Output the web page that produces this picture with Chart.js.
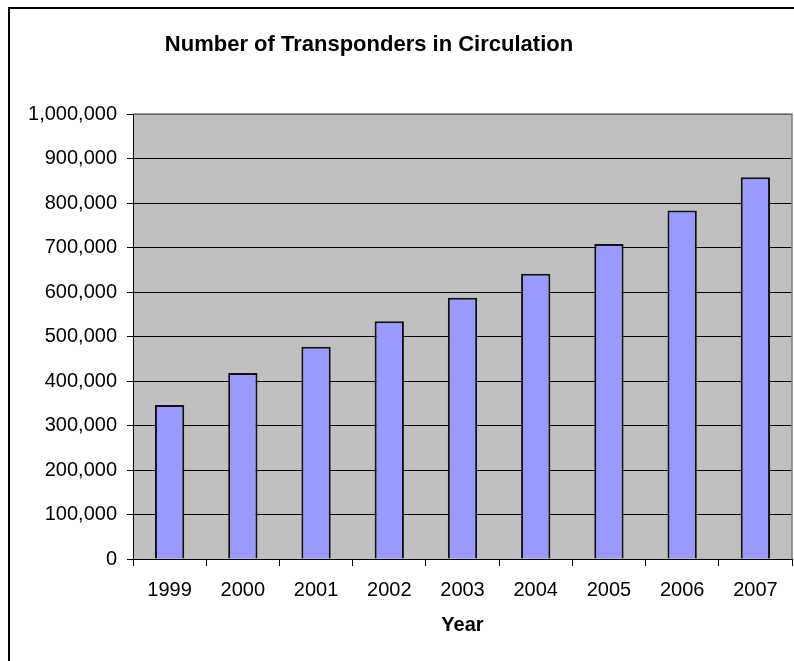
<!DOCTYPE html>
<html>
<head>
<meta charset="utf-8">
<script src="https://cdn.jsdelivr.net/npm/chart.js@4"></script>
<style>
  html, body { margin: 0; padding: 0; background: #ffffff; }
  #wrap { width: 794px; height: 661px; }
</style>
</head>
<body>
<div id="wrap"><canvas id="c" width="794" height="661"></canvas></div>
<script>
// Transponders in circulation by year
const years = ['1999', '2000', '2001', '2002', '2003', '2004', '2005', '2006', '2007'];
const transponders = [346000, 418000, 477000, 534000, 587000, 641000, 708000, 783000, 858000];
const chartTitle = 'Number of Transponders in Circulation';
const xAxisTitle = 'Year';

const FONT = '"Liberation Sans", Arial, sans-serif';

// Frame, grey plot background and the chart heading
const decor = {
  id: 'decor',
  beforeDraw(chart) {
    const { ctx, chartArea: a, width, height } = chart;
    ctx.save();
    ctx.fillStyle = '#ffffff';
    ctx.fillRect(0, 0, width, height);
    ctx.fillStyle = '#c0c0c0';
    ctx.fillRect(a.left, a.top, a.right - a.left, a.bottom - a.top);
    ctx.strokeStyle = '#000000';
    ctx.lineWidth = 2;
    ctx.beginPath();
    ctx.moveTo(9, height);
    ctx.lineTo(9, 8);
    ctx.lineTo(width, 8);
    ctx.stroke();
    ctx.restore();
  },
  beforeDatasetsDraw(chart) {
    const { ctx, chartArea: a } = chart;
    ctx.save();
    ctx.strokeStyle = '#808080';
    ctx.lineWidth = 1.5;
    ctx.beginPath();
    ctx.moveTo(a.left, a.top);
    ctx.lineTo(a.right, a.top);
    ctx.lineTo(a.right, a.bottom);
    ctx.stroke();
    ctx.restore();
  },
  afterDraw(chart) {
    const { ctx } = chart;
    ctx.save();
    ctx.fillStyle = '#000000';
    ctx.font = 'bold 22px ' + FONT;
    ctx.textAlign = 'center';
    ctx.textBaseline = 'alphabetic';
    ctx.fillText(chartTitle, 369, 51);
    ctx.restore();
  }
};

new Chart(document.getElementById('c'), {
  type: 'bar',
  data: {
    labels: years,
    datasets: [{
      data: transponders,
      backgroundColor: '#9999ff',
      borderColor: '#111111',
      borderWidth: 2,
      barPercentage: 0.4,
      categoryPercentage: 1.0
    }]
  },
  options: {
    responsive: false,
    animation: false,
    devicePixelRatio: 1,
    layout: { padding: { top: 114, right: 2, bottom: 0, left: 0 } },
    plugins: {
      legend: { display: false },
      title: { display: false },
      tooltip: { enabled: false }
    },
    scales: {
      x: {
        offset: true,
        grid: {
          offset: true,
          drawOnChartArea: false,
          color: '#000000',
          tickLength: 7
        },
        border: { display: true, color: '#000000', width: 1 },
        ticks: {
          color: '#000000',
          font: { family: FONT, size: 20 },
          padding: 12,
          maxRotation: 0
        },
        title: {
          display: true,
          text: xAxisTitle,
          color: '#000000',
          font: { family: FONT, size: 20, weight: 'bold' },
          padding: { top: 0, bottom: 24 }
        },
        afterFit(scale) { scale.height = 102; }
      },
      y: {
        min: 0,
        max: 1000000,
        grid: {
          color: '#000000',
          lineWidth: 1,
          tickLength: 6
        },
        border: { display: true, color: '#000000', width: 1 },
        ticks: {
          stepSize: 100000,
          color: '#000000',
          font: { family: FONT, size: 20 },
          padding: 10,
          callback: v => v.toLocaleString('en-US')
        },
        afterFit(scale) { scale.width = 133; }
      }
    }
  },
  plugins: [decor]
});
</script>
</body>
</html>
